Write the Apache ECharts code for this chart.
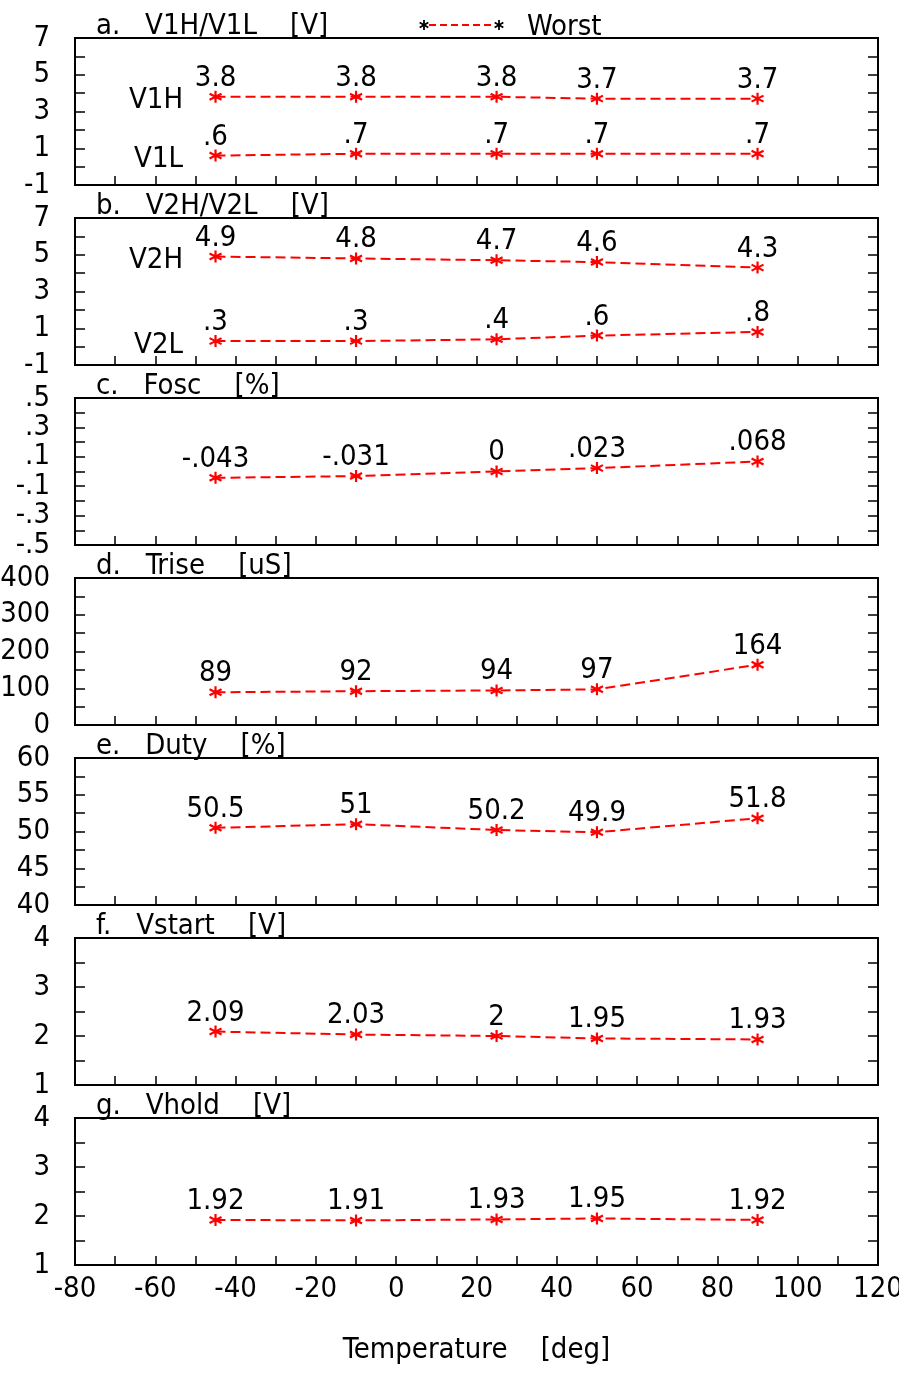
<!DOCTYPE html>
<html>
<head>
<meta charset="utf-8">
<script src="https://cdn.jsdelivr.net/npm/echarts@6/dist/echarts.min.js"></script>
<style>
html,body{margin:0;padding:0;background:#fff;}
#chart{width:899px;height:1373px;}
</style>
</head>
<body>
<div id="chart"></div>
<script>
// ---- data ----
const temps = [-45, -10, 25, 50, 90];
const v1h = [3.8, 3.8, 3.8, 3.7, 3.7];
const v1l = [0.6, 0.7, 0.7, 0.7, 0.7];
const v2h = [4.9, 4.8, 4.7, 4.6, 4.3];
const v2l = [0.3, 0.3, 0.4, 0.6, 0.8];
const fosc = [-0.043, -0.031, 0, 0.023, 0.068];
const trise = [89, 92, 94, 97, 164];
const duty = [50.5, 51, 50.2, 49.9, 51.8];
const vstart = [2.09, 2.03, 2, 1.95, 1.93];
const vhold = [1.92, 1.91, 1.93, 1.95, 1.92];

const panelTitles = ['a.   V1H/V1L    [V]', 'b.   V2H/V2L    [V]', 'c.   Fosc    [%]', 'd.   Trise    [uS]', 'e.   Duty    [%]', 'f.   Vstart    [V]', 'g.   Vhold    [V]'];
const xMin = -80, xMax = 120, xStep = 20;
const yMins = [-1, -1, -0.5, 0, 40, 1, 1];
const yMaxs = [7, 7, 0.5, 400, 60, 4, 4];
const yTickSteps = [1, 1, 0.1, 50, 2.5, 0.5, 0.5];
const yLabelSteps = [2, 2, 0.2, 100, 5, 1, 1];
const xName = 'Temperature    [deg]';
const legendName = 'Worst';

// series per panel: [panelIndex, values, sideName]
const seriesDefs = [
  [0, v1h, 'V1H'], [0, v1l, 'V1L'],
  [1, v2h, 'V2H'], [1, v2l, 'V2L'],
  [2, fosc, null], [3, trise, null], [4, duty, null], [5, vstart, null], [6, vhold, null]
];

const FONT = "'DejaVu Sans Condensed','Liberation Sans Narrow',sans-serif";
const FS = 29;
const RED = '#ff0000';
const ASTER = 'path://M0,-5L0,5M-4.33,-2.5L4.33,2.5M-4.33,2.5L4.33,-2.5';

function fmt(v) {
  let s = String(+Number(v).toPrecision(10));
  return s.replace(/^(-?)0\./, '$1.');
}

const chart = echarts.init(document.getElementById('chart'), null, {renderer: 'canvas'});

const grids = [], xAxes = [], yAxes = [], titles = [], series = [];
const N = panelTitles.length;
for (let i = 0; i < N; i++) {
  const top = 38 + 180 * i;
  grids.push({left: 75, right: 21, top: top, height: 147, show: true, borderColor: '#000', borderWidth: 2,
    backgroundColor: 'transparent', containLabel: false, outerBoundsMode: 'none'});
  const last = i === N - 1;
  xAxes.push({
    type: 'value', gridIndex: i, min: xMin, max: xMax, interval: xStep,
    axisLine: {show: true, onZero: false, lineStyle: {color: '#000', width: 2}},
    axisTick: {show: true, inside: true, length: 9, lineStyle: {color: '#000', width: 1.5}},
    minorTick: {show: true, splitNumber: 2, length: 9, lineStyle: {color: '#000', width: 1.5}},
    splitLine: {show: false}, minorSplitLine: {show: false},
    axisLabel: {show: last, margin: 10, fontSize: FS, fontFamily: FONT, color: '#000', formatter: v => fmt(v),
      showMinLabel: true, showMaxLabel: true, hideOverlap: false},
    name: last ? xName : '', nameLocation: 'middle', nameGap: 71,
    nameTextStyle: {fontSize: FS, fontFamily: FONT, color: '#000'}
  });
  const ymin = yMins[i], ymax = yMaxs[i], tstep = yTickSteps[i], lstep = yLabelSteps[i];
  const labelFmt = function (v) {
    const k = Math.round((v - ymin) / tstep);
    const per = Math.round(lstep / tstep);
    return (k % per === 0) ? fmt(+(ymin + k * tstep).toFixed(6)) : '';
  };
  const base = {
    type: 'value', gridIndex: i, min: ymin, max: ymax, interval: tstep,
    axisLine: {show: true, onZero: false, lineStyle: {color: '#000', width: 2}},
    axisTick: {show: true, inside: true, length: 10, lineStyle: {color: '#000', width: 1.5}},
    splitLine: {show: false}
  };
  yAxes.push(Object.assign({}, base, {position: 'left',
    axisLabel: {show: true, margin: 25, fontSize: FS, fontFamily: FONT, color: '#000', formatter: labelFmt,
      showMinLabel: true, showMaxLabel: true, hideOverlap: false, padding: [6, 0, 0, 0]}}));
  yAxes.push(Object.assign({}, base, {position: 'right', axisLabel: {show: false}}));
  titles.push({text: panelTitles[i], left: 96, top: top - 26, padding: 0,
    textStyle: {fontSize: FS, fontWeight: 'normal', fontFamily: FONT, color: '#000'}});
}

seriesDefs.forEach(function (d) {
  const p = d[0], vals = d[1], side = d[2];
  const s = {
    type: 'line', name: legendName, xAxisIndex: p, yAxisIndex: 2 * p,
    data: temps.map((t, j) => [t, vals[j]]),
    symbol: ASTER, symbolSize: 12,
    itemStyle: {color: RED, borderColor: RED, borderWidth: 2.2},
    lineStyle: {color: RED, width: 2, type: [10, 5]},
    label: {show: true, position: 'top', distance: 2, offset: [0, 5], fontSize: FS, fontFamily: FONT, color: '#000',
      formatter: q => fmt(q.value[1])},
    emphasis: {disabled: true},
    animation: false, z: 3
  };
  if (side) {
    s.markPoint = {
      symbol: 'rect', symbolSize: 1, itemStyle: {color: 'rgba(0,0,0,0)'},
      silent: true, animation: false,
      data: [{coord: [temps[0], vals[0]],
        label: {show: true, position: 'left', distance: 32, offset: [0, 4], fontSize: FS, fontFamily: FONT, color: '#000', formatter: side}}]
    };
  }
  series.push(s);
});

// legend drawn as graphic: black asterisk, red dashed line, black asterisk, text
function asterisk(cx, cy, r, color) {
  const out = [];
  [[0, -r, 0, r], [-r * 0.866, -r / 2, r * 0.866, r / 2], [-r * 0.866, r / 2, r * 0.866, -r / 2]].forEach(function (s) {
    out.push({type: 'line', shape: {x1: cx + s[0], y1: cy + s[1], x2: cx + s[2], y2: cy + s[3]}, style: {stroke: color, lineWidth: 1.8}});
  });
  return out;
}
const graphics = [
  {type: 'line', shape: {x1: 429, y1: 25, x2: 495, y2: 25}, style: {stroke: RED, lineWidth: 2, lineDash: [7, 4]}}
].concat(asterisk(424, 25, 5, '#000'), asterisk(499, 25, 5, '#000'), [
  {type: 'text', x: 527, y: 27, style: {text: legendName, fontSize: FS, fontFamily: FONT, fill: '#000', verticalAlign: 'middle'}}
]);

chart.setOption({
  animation: false,
  backgroundColor: '#fff',
  title: titles,
  grid: grids,
  xAxis: xAxes,
  yAxis: yAxes,
  series: series,
  graphic: graphics
});
</script>
</body>
</html>
